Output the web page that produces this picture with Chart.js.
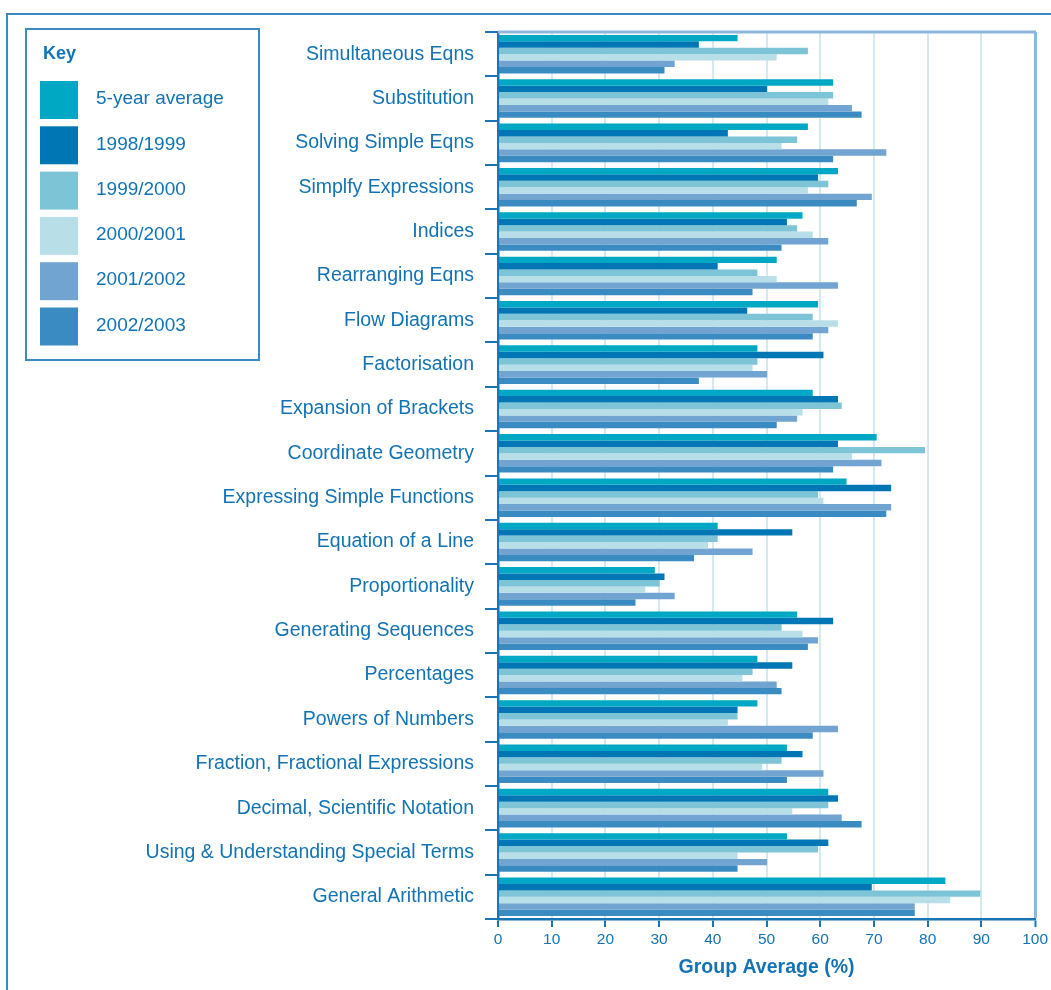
<!DOCTYPE html>
<html lang="en">
<head>
<meta charset="UTF-8">
<title>Group Average by Topic</title>
<style>
  html, body { margin: 0; padding: 0; background: #fff; }
  #wrap { width: 1051px; height: 990px; }
</style>
</head>
<body>
<div id="wrap"><canvas id="avgChart" width="1051" height="990"></canvas></div>
<script src="https://cdn.jsdelivr.net/npm/chart.js"></script>
<script>
// topics, top to bottom
const categories = [
  'Simultaneous Eqns', 'Substitution', 'Solving Simple Eqns', 'Simplfy Expressions',
  'Indices', 'Rearranging Eqns', 'Flow Diagrams', 'Factorisation',
  'Expansion of Brackets', 'Coordinate Geometry', 'Expressing Simple Functions',
  'Equation of a Line', 'Proportionality', 'Generating Sequences', 'Percentages',
  'Powers of Numbers', 'Fraction, Fractional Expressions', 'Decimal, Scientific Notation',
  'Using & Understanding Special Terms', 'General Arithmetic'
];

const seriesNames = ['5-year average', '1998/1999', '1999/2000', '2000/2001', '2001/2002', '2002/2003'];
const seriesColors = ['#00a8c3', '#0077b4', '#7cc4d6', '#b8dee8', '#72a4d1', '#3b8bc3'];

const avg5yr = [44.6, 62.4, 57.7, 63.3, 56.7, 51.9, 59.6, 48.3, 58.6, 70.5, 64.9, 40.9, 29.2, 55.7, 48.3, 48.3, 53.8, 61.5, 53.8, 83.3];
const y9899  = [37.4, 50.1, 42.8, 59.6, 53.8, 40.9, 46.4, 60.6, 63.3, 63.3, 73.2, 54.8, 31.0, 62.4, 54.8, 44.6, 56.7, 63.3, 61.5, 69.6];
const y9900  = [57.7, 62.4, 55.7, 61.5, 55.7, 48.3, 58.6, 48.3, 64.0, 79.5, 59.6, 40.9, 30.1, 52.8, 47.4, 44.6, 52.8, 61.5, 59.6, 89.8];
const y0001  = [51.9, 61.5, 52.8, 57.7, 58.6, 51.9, 63.3, 47.4, 56.7, 65.9, 60.6, 39.1, 27.4, 56.7, 45.5, 42.8, 49.2, 54.8, 44.6, 84.2];
const y0102  = [32.9, 65.9, 72.3, 69.6, 61.5, 63.3, 61.5, 50.1, 55.7, 71.4, 73.2, 47.4, 32.9, 59.6, 51.9, 63.3, 60.6, 64.0, 50.1, 77.6];
const y0203  = [31.0, 67.7, 62.4, 66.8, 52.8, 47.4, 58.6, 37.4, 51.9, 62.4, 72.3, 36.5, 25.6, 57.7, 52.8, 58.6, 53.8, 67.7, 44.6, 77.6];

const xTicks = [0, 10, 20, 30, 40, 50, 60, 70, 80, 90, 100];

const seriesData = [avg5yr, y9899, y9900, y0001, y0102, y0203];
const textBlue = '#1273b4';
const axisBlue = '#1a75b5';
const fontFam = '"Liberation Sans", Arial, Helvetica, sans-serif';

// key box + frame lines
const keyPlugin = {
  id: 'keyBox',
  afterDraw(chart) {
    const ctx = chart.ctx;
    const area = chart.chartArea;
    ctx.save();
    ctx.strokeStyle = '#3a8bc4';
    ctx.lineWidth = 2;
    ctx.beginPath();
    ctx.moveTo(7, 990); ctx.lineTo(7, 14); ctx.lineTo(1051, 14);
    ctx.stroke();

    ctx.strokeStyle = '#8fb6dc';
    ctx.lineWidth = 3;
    ctx.beginPath();
    ctx.moveTo(area.left, area.top); ctx.lineTo(area.right + 1, area.top);
    ctx.stroke();

    ctx.strokeStyle = '#3a8bc4';
    ctx.lineWidth = 2;
    ctx.strokeRect(26, 29, 233, 331);
    ctx.fillStyle = textBlue;
    ctx.textBaseline = 'middle';
    ctx.font = 'bold 18px ' + fontFam;
    ctx.fillText('Key', 43, 54);
    chart.data.datasets.forEach((ds, i) => {
      const y = 81 + i * 45.3;
      ctx.fillStyle = ds.backgroundColor;
      ctx.fillRect(40, y, 38, 38);
      ctx.fillStyle = textBlue;
      ctx.font = '19px ' + fontFam;
      ctx.fillText(ds.label, 96, y + 18);
    });
    ctx.restore();
  }
};

new Chart(document.getElementById('avgChart'), {
  type: 'bar',
  data: {
    labels: categories,
    datasets: seriesNames.map((name, i) => ({
      label: name,
      data: seriesData[i],
      backgroundColor: seriesColors[i],
      borderWidth: 0,
      categoryPercentage: 0.87,
      barPercentage: 1.0
    }))
  },
  options: {
    responsive: false,
    animation: false,
    indexAxis: 'y',
    layout: { padding: { top: 32, right: 14, bottom: 0, left: 0 } },
    plugins: { legend: { display: false }, tooltip: { enabled: false } },
    scales: {
      x: {
        min: 0,
        max: 100,
        afterBuildTicks: s => { s.ticks = xTicks.map(v => ({ value: v })); },
        ticks: { color: textBlue, font: { family: fontFam, size: 15.5 }, padding: 3, maxRotation: 0 },
        grid: {
          color: c => (c.tick && c.tick.value === 100) ? '#8fb6dc' : '#d4e8ef',
          lineWidth: c => (c.tick && c.tick.value === 100) ? 3 : 2,
          tickColor: axisBlue,
          tickWidth: 2,
          tickLength: 8
        },
        border: { color: axisBlue, width: 2.5 },
        title: {
          display: true,
          text: 'Group Average (%)',
          color: textBlue,
          font: { family: fontFam, size: 19.5, weight: 'bold' },
          padding: { top: 11, bottom: 11 }
        },
        afterFit: s => { s.height = 71; }
      },
      y: {
        ticks: { color: textBlue, font: { family: fontFam, size: 19.5 }, padding: 11, autoSkip: false },
        grid: { drawOnChartArea: false, color: axisBlue, lineWidth: 2, tickLength: 13 },
        border: { color: axisBlue, width: 2.5 },
        afterFit: s => { s.width = 498; }
      }
    }
  },
  plugins: [keyPlugin]
});
</script>
</body>
</html>
